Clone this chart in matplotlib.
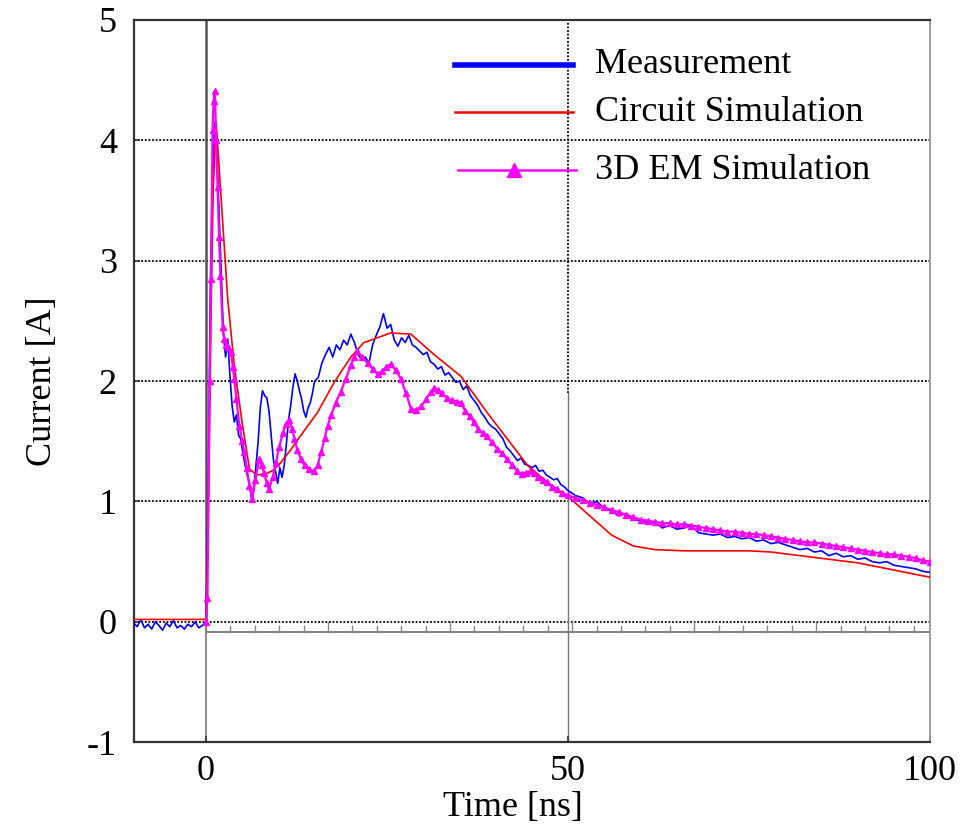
import numpy as np
import matplotlib
matplotlib.use("Agg")
import matplotlib.pyplot as plt

plt.rcParams['font.family'] = ['Liberation Serif', 'DejaVu Serif']

# ---------------- data ----------------
# Measurement, before the pulse (-10 .. -0.5 ns, 0.5 ns steps)
meas_pre_t = np.arange(-10.0, -0.49, 0.5)
meas_pre_i = [-0.01, -0.04, 0.02, -0.05, -0.02, -0.06, 0.00, -0.03, -0.07, -0.01,
              -0.04, 0.01, -0.05, -0.03, -0.06, -0.02, -0.04, 0.00, -0.05, -0.03]

# Measurement, 0 .. 15 ns (0.3 ns steps)
meas_a_t = np.arange(0.0, 15.01, 0.3)
meas_a_i = [0.00, 1.00, 2.80, 3.70, 4.15, 3.90, 3.40, 2.90, 2.40, 2.20,
            2.35, 2.05, 1.80, 1.66, 1.72, 1.55, 1.52, 1.40, 1.30, 1.22,
            1.15, 1.02, 1.10, 1.30, 1.50, 1.78, 1.92, 1.88, 1.86, 1.75,
            1.55, 1.35, 1.25, 1.15, 1.28, 1.20, 1.30, 1.48, 1.68, 1.80,
            1.95, 2.06, 2.00, 1.92, 1.85, 1.75, 1.70, 1.78, 1.82, 1.90,
            2.00]

# Measurement, 15.5 .. 50 ns (0.5 ns steps)
meas_b_t = np.arange(15.5, 50.01, 0.5)
meas_b_i = [2.03, 2.15, 2.22, 2.28, 2.20, 2.30, 2.26, 2.34, 2.30, 2.39,
            2.32, 2.22, 2.18, 2.20, 2.15, 2.30, 2.38, 2.45, 2.56, 2.44,
            2.47, 2.34, 2.29, 2.36, 2.32, 2.38, 2.30, 2.28, 2.25, 2.22,
            2.24, 2.16, 2.14, 2.10, 2.12, 2.05, 2.07, 2.03, 1.99, 2.00,
            1.93, 1.96, 1.88, 1.84, 1.80, 1.74, 1.70, 1.65, 1.62, 1.60,
            1.56, 1.52, 1.45, 1.42, 1.38, 1.34, 1.36, 1.31, 1.30, 1.28,
            1.30, 1.25, 1.26, 1.22, 1.20, 1.18, 1.19, 1.14, 1.12, 1.09]

# Measurement, 51 .. 100 ns (1 ns steps)
meas_c_t = np.arange(51.0, 100.01, 1.0)
meas_c_i = [1.05, 1.03, 0.98, 1.00, 0.94, 0.92, 0.88, 0.90, 0.85, 0.84,
            0.82, 0.83, 0.78, 0.80, 0.77, 0.78, 0.80, 0.74, 0.73, 0.72,
            0.73, 0.70, 0.71, 0.69, 0.70, 0.67, 0.68, 0.65, 0.66, 0.64,
            0.62, 0.60, 0.61, 0.58, 0.59, 0.55, 0.57, 0.54, 0.55, 0.52,
            0.53, 0.50, 0.49, 0.50, 0.47, 0.46, 0.45, 0.44, 0.42, 0.41]

# Circuit simulation
circ_t = [-10, 0.0, 0.3, 0.7, 1.0, 1.4, 2.0, 3.0, 3.9, 5.0,
          6.0, 7.0, 8.3, 9.3, 10.3, 11.7, 13.1, 15.4, 17.7, 20.0,
          21.8, 25.5, 28.3, 31.5, 35.2, 38.8, 41.6, 44.4, 47.1, 50,
          53, 56, 59, 62, 66, 70, 75, 78, 82, 86,
          90, 95, 100]
circ_i = [0.02, 0.02, 0.80, 2.60, 3.60, 4.15, 3.60, 2.68, 2.13, 1.65,
          1.27, 1.22, 1.23, 1.26, 1.32, 1.43, 1.55, 1.74, 1.99, 2.20,
          2.32, 2.40, 2.39, 2.22, 2.04, 1.74, 1.52, 1.30, 1.16, 1.04,
          0.88, 0.72, 0.63, 0.60, 0.59, 0.59, 0.59, 0.58, 0.55, 0.52,
          0.49, 0.43, 0.37]

# 3D EM simulation, 0 .. 50 ns
em_a_t = [0.0, 0.2, 0.5, 0.7, 0.9, 1.05, 1.23, 1.4, 1.6, 1.8,
          2.0, 2.3, 2.5, 2.8, 3.1, 3.45, 3.7, 3.9, 4.2, 4.6,
          5.0, 5.3, 5.6, 6.0, 6.4, 6.8, 7.35, 7.7, 8.0, 8.4,
          8.7, 9.2, 9.65, 10.1, 10.6, 11.0, 11.5, 11.9, 12.2, 12.6,
          13.1, 13.6, 14.2, 14.9, 15.4, 15.9, 16.4, 16.8, 17.3, 17.9,
          18.6, 19.3, 20.0, 20.5, 20.9, 21.5, 22.3, 23.0, 23.7, 24.3,
          24.9, 25.5, 26.2, 26.9, 27.6, 28.3, 29.0, 29.7, 30.4, 31.0,
          31.5, 32.0, 32.6, 33.3, 34.0, 34.6, 35.2, 35.8, 36.4, 37.0,
          37.6, 38.2, 38.8, 39.5, 40.2, 40.9, 41.6, 42.3, 43.0, 43.6,
          44.2, 44.8, 45.3, 45.9, 46.5, 47.1, 47.8, 48.5, 49.2, 50.0]
em_a_i = [0.00, 0.20, 2.00, 2.85, 4.09, 4.33, 4.41, 4.00, 3.61, 3.20,
          2.87, 2.45, 2.35, 2.30, 2.28, 2.24, 2.12, 2.02, 1.85, 1.63,
          1.50, 1.41, 1.28, 1.13, 1.02, 1.18, 1.35, 1.30, 1.24, 1.15,
          1.10, 1.20, 1.32, 1.45, 1.57, 1.64, 1.68, 1.60, 1.52, 1.43,
          1.35, 1.30, 1.27, 1.25, 1.30, 1.41, 1.53, 1.63, 1.72, 1.82,
          1.91, 2.02, 2.13, 2.20, 2.25, 2.20, 2.15, 2.10, 2.06, 2.08,
          2.12, 2.14, 2.09, 2.02, 1.90, 1.77, 1.76, 1.79, 1.85, 1.91,
          1.94, 1.93, 1.90, 1.86, 1.84, 1.83, 1.82, 1.75, 1.71, 1.66,
          1.60, 1.57, 1.54, 1.49, 1.44, 1.40, 1.35, 1.30, 1.25, 1.23,
          1.24, 1.25, 1.24, 1.20, 1.18, 1.16, 1.12, 1.10, 1.07, 1.05]

# 3D EM simulation, 51 .. 100 ns
em_b_t = np.arange(51.0, 100.01, 1.0)
em_b_i = [1.03, 1.01, 0.99, 0.97, 0.95, 0.93, 0.91, 0.89, 0.87, 0.85,
          0.84, 0.83, 0.82, 0.82, 0.81, 0.81, 0.80, 0.79, 0.78, 0.77,
          0.76, 0.75, 0.75, 0.74, 0.73, 0.73, 0.72, 0.71, 0.70, 0.69,
          0.68, 0.67, 0.66, 0.66, 0.65, 0.64, 0.63, 0.62, 0.61, 0.60,
          0.59, 0.58, 0.57, 0.56, 0.56, 0.55, 0.54, 0.53, 0.51, 0.50]

labels = ['Measurement', 'Circuit Simulation', '3D EM Simulation']
x_ticks = [0, 50, 100]
y_ticks = [-1, 0, 1, 2, 3, 4, 5]

meas_t = np.concatenate([meas_pre_t, meas_a_t, meas_b_t, meas_c_t])
meas_i = np.concatenate([meas_pre_i, meas_a_i, meas_b_i, meas_c_i])
em_t = np.concatenate([em_a_t, em_b_t])
em_i = np.concatenate([em_a_i, em_b_i])

# ---------------- figure ----------------
fig = plt.figure(figsize=(9.61, 8.33), dpi=100)
ax = fig.add_axes([0.139, 0.109, 0.829, 0.867])
ax.set_xlim(-10, 100)
ax.set_ylim(-1, 5)

# grid: dotted horizontals, special verticals
for y in range(0, 5):
    ax.axhline(y, color='black', lw=1.3, ls=(0, (1, 1)), zorder=1)
ax.plot([50, 50], [1.9, 5], color='black', lw=1.3, ls=(0, (1, 1)), zorder=1)
ax.plot([50, 50], [-1, 1.9], color='#777777', lw=1.0, zorder=1)
ax.plot([0, 0], [0, 5], color='#555555', lw=1.8, zorder=1)
ax.plot([0, 0], [-1, 0], color='#777777', lw=1.2, zorder=1)

# the offset base line with its own little ticks
base = -0.088
ax.plot([0, 100], [base, base], color='#777777', lw=1.3, zorder=1)
step = 16.85 / 5
k = 0
while k * step <= 100:
    h = 0.09 if k % 5 == 0 else 0.05
    ax.plot([k * step, k * step], [base, base + h], color='#888888', lw=1.0, zorder=1)
    k += 1

# curves
ax.plot(meas_t, meas_i, color='#0000ff', lw=1.2, zorder=3)
ax.plot(circ_t, circ_i, color='#ff0000', lw=1.2, zorder=4)
ax.plot(em_t, em_i, color='#ff00ff', lw=1.6, marker='^', ms=4.5, mec='#ff00ff', zorder=5)

# frame
for s in ['left', 'top', 'bottom']:
    ax.spines[s].set_color('#333333')
    ax.spines[s].set_linewidth(1.6)
ax.spines['right'].set_color('#999999')
ax.spines['right'].set_linewidth(1.3)

ax.set_xticks(x_ticks)
ax.set_yticks(y_ticks)
ax.tick_params(axis='both', direction='in', length=4, width=1.2, color='#333333',
               labelsize=26)
ax.tick_params(axis='y', pad=12)
ax.tick_params(axis='x', pad=9)
ax.set_xticklabels([str(v) for v in x_ticks])
ax.set_yticklabels([str(v) for v in y_ticks])

ax.set_xlabel('Time [ns]', fontsize=26, labelpad=0)
ax.xaxis.set_label_coords(0.476, -0.068)
ax.set_ylabel('Current [A]', fontsize=26)
ax.yaxis.set_label_coords(-0.093, 0.5)

# legend drawn by hand
lx0, lx1, tx = 0.4036, 0.5518, 0.5794
rows = [0.9377, 0.872, 0.792]
ax.plot([lx0, lx1], [rows[0], rows[0]], transform=ax.transAxes, color='#0000ff', lw=4, zorder=6)
ax.plot([lx0, lx1], [rows[1], rows[1]], transform=ax.transAxes, color='#ff0000', lw=1.8, zorder=6)
ax.plot([lx0 + 0.004, lx1 + 0.003], [rows[2], rows[2]], transform=ax.transAxes,
        color='#ff00ff', lw=1.8, zorder=6)
ax.plot([(lx0 + lx1) / 2], [rows[2]], transform=ax.transAxes, color='#ff00ff',
        marker='^', ms=10, zorder=6)
for r, lab in zip(rows, labels):
    ax.text(tx, r, lab, transform=ax.transAxes, fontsize=26, va='center', ha='left', zorder=6)

fig.savefig('out.png', dpi=100)
